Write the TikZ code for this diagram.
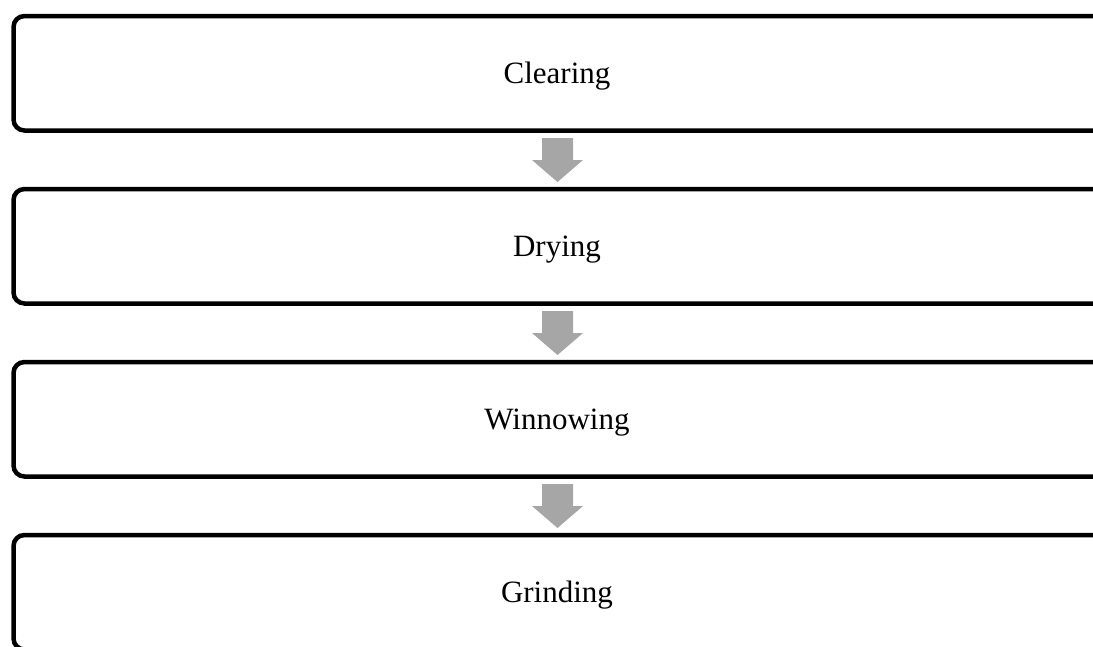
\documentclass[tikz,border=0pt]{standalone}
\usepackage{fontspec}
\setmainfont{Liberation Serif}
\begin{document}
\begin{tikzpicture}[x=1pt,y=-1pt,
  stepbox/.style={draw=black,line width=4.5pt,rounded corners=11pt,fill=white},
  steplabel/.style={font=\fontsize{31}{36}\selectfont,text=black},
  downarrow/.style={fill=arrowgray,draw=none}]
\definecolor{arrowgray}{HTML}{A6A6A6}
\useasboundingbox (0,0) rectangle (1093,646);
\clip (0,0) rectangle (1093,646);
% boxes
\foreach \i/\t/\n in {0/Clearing/a,1/Drying/b,2/Winnowing/c,3/Grinding/d}{
  \draw[stepbox] (13.5,16+173*\i) rectangle (1120,130.5+173*\i);
  \node[steplabel] (\n) at (557,76.5+173*\i) {\t};
}
% arrows
\foreach \i in {0,1,2}{
  \fill[downarrow] (542,138+173*\i) -- (573,138+173*\i) -- (573,160+173*\i) -- (583,160+173*\i)
     -- (557.5,182+173*\i) -- (532,160+173*\i) -- (542,160+173*\i) -- cycle;
}
\end{tikzpicture}
\end{document}
